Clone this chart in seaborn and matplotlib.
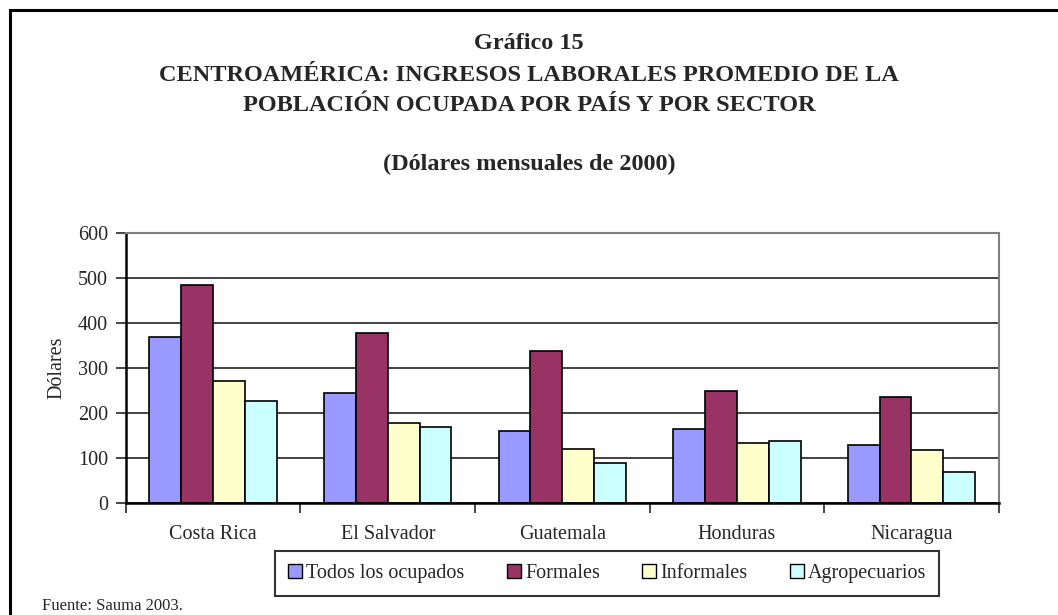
import pandas as pd
import matplotlib.pyplot as plt
import seaborn as sns
from matplotlib.patches import Rectangle, Patch

paises = ["Costa Rica", "El Salvador", "Guatemala", "Honduras", "Nicaragua"]
sectores = ["Todos los ocupados", "Formales", "Informales", "Agropecuarios"]
todos = [370, 244, 161, 164, 129]
formales = [484, 378, 338, 248, 236]
informales = [271, 178, 121, 133, 117]
agro = [227, 169, 89, 138, 70]
colores = ["#9999FF", "#993366", "#FFFFCC", "#CCFFFF"]

# long format table for seaborn
df = pd.DataFrame({
    "pais": paises * 4,
    "sector": [s for s in sectores for _ in paises],
    "dolares": todos + formales + informales + agro,
})

sns.set_style("white")
plt.rcParams["font.family"] = ["Liberation Serif", "DejaVu Serif"]

fig = plt.figure(figsize=(10.58, 6.15), dpi=100)
ax = fig.add_axes([0.119, 0.182, 0.825, 0.439])

sns.barplot(data=df, x="pais", y="dolares", hue="sector", order=paises,
            hue_order=sectores, palette=colores, width=0.73, saturation=1,
            edgecolor="black", linewidth=1.2, legend=False, ax=ax)

ax.set_ylim(0, 600)
ax.set_xlim(-0.5, 4.5)
ax.set_yticks(range(0, 601, 100))
ax.yaxis.grid(True, color="#222222", linewidth=1.2)
ax.set_axisbelow(True)
ax.tick_params(axis="y", direction="out", length=7, width=1.2, labelsize=14.5, left=True, pad=6)
ax.tick_params(axis="x", length=0, labelsize=14.5, pad=16)
ax.set_xticks(range(len(paises)))
ax.set_xticks([i - 0.5 for i in range(len(paises) + 1)], minor=True)
ax.tick_params(axis="x", which="minor", direction="out", length=7, width=1.2, bottom=True)
ax.set_xlabel("")
ax.set_ylabel("Dólares", fontsize=14.5, labelpad=8)
for side in ["left", "bottom"]:
    ax.spines[side].set_color("black")
    ax.spines[side].set_linewidth(1.8)
for side in ["top", "right"]:
    ax.spines[side].set_color("#808080")
    ax.spines[side].set_linewidth(1.5)

# titles
fig.text(0.5, 0.93, "Gráfico 15", ha="center", va="center", fontsize=17.5, fontweight="bold")
fig.text(0.5, 0.877, "CENTROAMÉRICA: INGRESOS LABORALES PROMEDIO DE LA", ha="center",
         va="center", fontsize=17.5, fontweight="bold")
fig.text(0.5, 0.828, "POBLACIÓN OCUPADA POR PAÍS Y POR SECTOR", ha="center",
         va="center", fontsize=17.5, fontweight="bold")
fig.text(0.5, 0.733, "(Dólares mensuales de 2000)", ha="center", va="center",
         fontsize=17.5, fontweight="bold")

handles = [Patch(facecolor=c, edgecolor="black", linewidth=1) for c in colores]
leg = fig.legend(handles, sectores, loc="center", bbox_to_anchor=(0.574, 0.067), ncol=4,
                 fontsize=14.5, frameon=True, fancybox=False, edgecolor="black",
                 handlelength=0.7, handleheight=0.7, handletextpad=0.2,
                 columnspacing=2.1, borderpad=0.65)
leg.get_frame().set_linewidth(1.5)

fig.text(0.04, 0.014, "Fuente: Sauma 2003.", fontsize=12, va="center")

# outer frame
fig.patches.append(Rectangle((0.0095, -0.05), 1.1, 1.034, transform=fig.transFigure,
                             fill=False, edgecolor="black", linewidth=2.2))

plt.savefig("out.png", dpi=100)
